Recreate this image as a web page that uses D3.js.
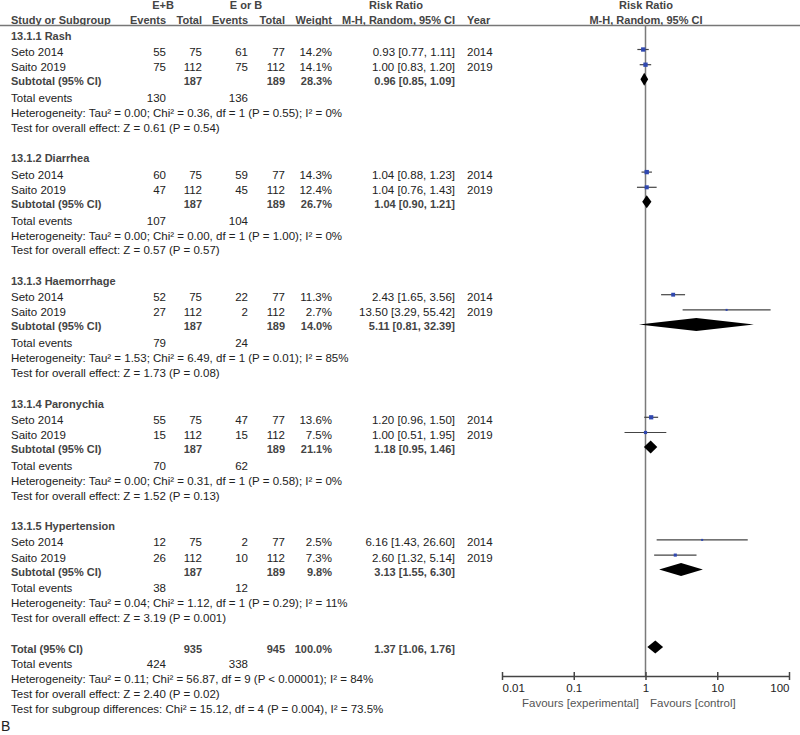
<!DOCTYPE html>
<html>
<head>
<meta charset="utf-8">
<script src="https://cdn.jsdelivr.net/npm/d3@7"></script>
<style>
  body { margin: 0; background: #fff; }
  text { font-family: "Liberation Sans", Arial, sans-serif; font-size: 11.5px; fill: #222; }
  .b { font-weight: bold; fill: #444; font-size: 11px; }
</style>
</head>
<body>
<div id="chart"></div>
<script>
// data
const subgroups = ["13.1.1 Rash", "13.1.2 Diarrhea", "13.1.3 Haemorrhage", "13.1.4 Paronychia", "13.1.5 Hypertension"];
const studyNames = ["Seto 2014", "Saito 2019"];
const studyYears = ["2014", "2019"];
const expEvents = [[55, 75], [60, 47], [52, 27], [55, 15], [12, 26]];
const ctlEvents = [[61, 75], [59, 45], [22, 2], [47, 15], [2, 10]];
const expTotals = [75, 112];
const ctlTotals = [77, 112];
const weights = [[14.2, 14.1], [14.3, 12.4], [11.3, 2.7], [13.6, 7.5], [2.5, 7.3]];
const rr = [[0.93, 1.00], [1.04, 1.04], [2.43, 13.50], [1.20, 1.00], [6.16, 2.60]];
const rrLo = [[0.77, 0.83], [0.88, 0.76], [1.65, 3.29], [0.96, 0.51], [1.43, 1.32]];
const rrHi = [[1.11, 1.20], [1.23, 1.43], [3.56, 55.42], [1.50, 1.95], [26.60, 5.14]];
const subExpTotal = 187, subCtlTotal = 189;
const subWeights = [28.3, 26.7, 14.0, 21.1, 9.8];
const subRR = [0.96, 1.04, 5.11, 1.18, 3.13];
const subLo = [0.85, 0.90, 0.81, 0.95, 1.55];
const subHi = [1.09, 1.21, 32.39, 1.46, 6.30];
const subExpEvents = [130, 107, 79, 70, 38];
const subCtlEvents = [136, 104, 24, 62, 12];
const hetTexts = [
  "Heterogeneity: Tau² = 0.00; Chi² = 0.36, df = 1 (P = 0.55); I² = 0%",
  "Heterogeneity: Tau² = 0.00; Chi² = 0.00, df = 1 (P = 1.00); I² = 0%",
  "Heterogeneity: Tau² = 1.53; Chi² = 6.49, df = 1 (P = 0.01); I² = 85%",
  "Heterogeneity: Tau² = 0.00; Chi² = 0.31, df = 1 (P = 0.58); I² = 0%",
  "Heterogeneity: Tau² = 0.04; Chi² = 1.12, df = 1 (P = 0.29); I² = 11%"
];
const effectTexts = [
  "Test for overall effect: Z = 0.61 (P = 0.54)",
  "Test for overall effect: Z = 0.57 (P = 0.57)",
  "Test for overall effect: Z = 1.73 (P = 0.08)",
  "Test for overall effect: Z = 1.52 (P = 0.13)",
  "Test for overall effect: Z = 3.19 (P = 0.001)"
];
const total = { exp: 935, ctl: 945, weight: 100.0, rr: 1.37, lo: 1.06, hi: 1.76, expEvents: 424, ctlEvents: 338 };
const totalTexts = [
  "Heterogeneity: Tau² = 0.11; Chi² = 56.87, df = 9 (P < 0.00001); I² = 84%",
  "Test for overall effect: Z = 2.40 (P = 0.02)",
  "Test for subgroup differences: Chi² = 15.12, df = 4 (P = 0.004), I² = 73.5%"
];
const axisTicks = [0.01, 0.1, 1, 10, 100];

const width = 800, height = 735;
const svg = d3.select("#chart").append("svg")
    .attr("width", width)
    .attr("height", height);

// column positions (right edges for numbers)
const col = { name: 11, expEv: 166, expTot: 202, ctlEv: 248, ctlTot: 285, weight: 332, ci: 455, year: 467 };

const x = d3.scaleLog().domain([0.01, 100]).range([502, 789]);
const fmt = d3.format(".2f");
const ciText = (m, l, h) => `${fmt(m)} [${fmt(l)}, ${fmt(h)}]`;

function txt(xp, tc, s, anchor, bold) {
  // tc = visual centre of the text line
  svg.append("text")
      .attr("x", xp).attr("y", tc + 4)
      .attr("text-anchor", anchor || "start")
      .attr("class", bold ? "b" : null)
      .text(s);
}

// header
txt(163, 5, "E+B", "middle", true);
txt(246, 5, "E or B", "middle", true);
txt(396, 5, "Risk Ratio", "middle", true);
txt(646, 5, "Risk Ratio", "middle", true);
txt(col.name, 20, "Study or Subgroup", "start", true);
txt(col.expEv, 20, "Events", "end", true);
txt(col.expTot, 20, "Total", "end", true);
txt(col.ctlEv, 20, "Events", "end", true);
txt(col.ctlTot, 20, "Total", "end", true);
txt(col.weight, 20, "Weight", "end", true);
txt(342, 20, "M-H, Random, 95% CI", "start", true);
txt(col.year, 20, "Year", "start", true);
txt(646, 20, "M-H, Random, 95% CI", "middle", true);

svg.append("line")
    .attr("x1", 0).attr("x2", width)
    .attr("y1", 25.5).attr("y2", 25.5)
    .attr("stroke", "#777").attr("stroke-width", 1.5);

const axisY = 676;

// line of no effect
svg.append("line")
    .attr("x1", x(1)).attr("x2", x(1))
    .attr("y1", 25).attr("y2", axisY)
    .attr("stroke", "#7a7a7a").attr("stroke-width", 1.5);

function diamond(tc, m, l, h) {
  const y = tc - 2, hh = 6.5;
  svg.append("path")
      .attr("d", `M${x(l)},${y} L${x(m)},${y - hh} L${x(h)},${y} L${x(m)},${y + hh} Z`)
      .attr("fill", "#000");
}

// subgroup blocks
const blockStep = 122.6;
const offs = [0, 16.3, 31.5, 45.5, 62.2, 77.2, 92];
subgroups.forEach((g, gi) => {
  const top = 35.7 + gi * blockStep;
  txt(col.name, top + offs[0], g, "start", true);

  studyNames.forEach((s, si) => {
    const tc = top + offs[1 + si];
    txt(col.name, tc, s);
    txt(col.expEv, tc, expEvents[gi][si], "end");
    txt(col.expTot, tc, expTotals[si], "end");
    txt(col.ctlEv, tc, ctlEvents[gi][si], "end");
    txt(col.ctlTot, tc, ctlTotals[si], "end");
    txt(col.weight, tc, weights[gi][si].toFixed(1) + "%", "end");
    txt(col.ci, tc, ciText(rr[gi][si], rrLo[gi][si], rrHi[gi][si]), "end");
    txt(col.year, tc, studyYears[si]);

    const my = tc - 2.5;
    svg.append("line")
        .attr("x1", x(rrLo[gi][si])).attr("x2", x(rrHi[gi][si]))
        .attr("y1", my).attr("y2", my)
        .attr("stroke", "#444").attr("stroke-width", 1.2);
    const sz = Math.max(2, 1.15 * Math.sqrt(weights[gi][si]));
    svg.append("rect")
        .attr("x", x(rr[gi][si]) - sz / 2).attr("y", my - sz / 2)
        .attr("width", sz).attr("height", sz)
        .attr("fill", "#3048b0");
  });

  const st = top + offs[3];
  txt(col.name, st, "Subtotal (95% CI)", "start", true);
  txt(col.expTot, st, subExpTotal, "end", true);
  txt(col.ctlTot, st, subCtlTotal, "end", true);
  txt(col.weight, st, subWeights[gi].toFixed(1) + "%", "end", true);
  txt(col.ci, st, ciText(subRR[gi], subLo[gi], subHi[gi]), "end", true);
  diamond(st, subRR[gi], subLo[gi], subHi[gi]);

  txt(col.name, top + offs[4], "Total events");
  txt(col.expEv, top + offs[4], subExpEvents[gi], "end");
  txt(col.ctlEv, top + offs[4], subCtlEvents[gi], "end");
  txt(col.name, top + offs[5], hetTexts[gi]);
  txt(col.name, top + offs[6], effectTexts[gi]);
});

// overall
const tt = 649;
txt(col.name, tt, "Total (95% CI)", "start", true);
txt(col.expTot, tt, total.exp, "end", true);
txt(col.ctlTot, tt, total.ctl, "end", true);
txt(col.weight, tt, total.weight.toFixed(1) + "%", "end", true);
txt(col.ci, tt, ciText(total.rr, total.lo, total.hi), "end", true);
diamond(tt, total.rr, total.lo, total.hi);
txt(col.name, tt + 15, "Total events");
txt(col.expEv, tt + 15, total.expEvents, "end");
txt(col.ctlEv, tt + 15, total.ctlEvents, "end");
totalTexts.forEach((s, i) => txt(col.name, tt + 30 + i * 15, s));

svg.append("text")
    .attr("x", 1).attr("y", 731)
    .style("font-size", "14px")
    .text("B");

// axis
const axis = svg.append("g")
    .attr("transform", `translate(0,${axisY})`)
    .call(d3.axisBottom(x).tickValues(axisTicks).tickSize(4).tickSizeOuter(0)
      .tickFormat(d => String(d)));
axis.select(".domain").attr("stroke", "#444").attr("stroke-width", 1.5);
axis.selectAll(".tick line").attr("y1", -4).attr("stroke", "#444").attr("stroke-width", 1.5);
axis.selectAll(".tick text")
    .attr("y", 8)
    .style("font-family", "'Liberation Sans', Arial, sans-serif")
    .style("font-size", "11.5px")
    .attr("fill", "#222")
    .attr("text-anchor", (d, i) => i === 0 ? "start" : i === axisTicks.length - 1 ? "end" : "middle");
axis.select(".domain").raise();

svg.append("text").attr("x", 639).attr("y", 706.5).attr("text-anchor", "end")
    .style("fill", "#555").text("Favours [experimental]");
svg.append("text").attr("x", 650).attr("y", 706.5)
    .style("fill", "#555").text("Favours [control]");
</script>
</body>
</html>
